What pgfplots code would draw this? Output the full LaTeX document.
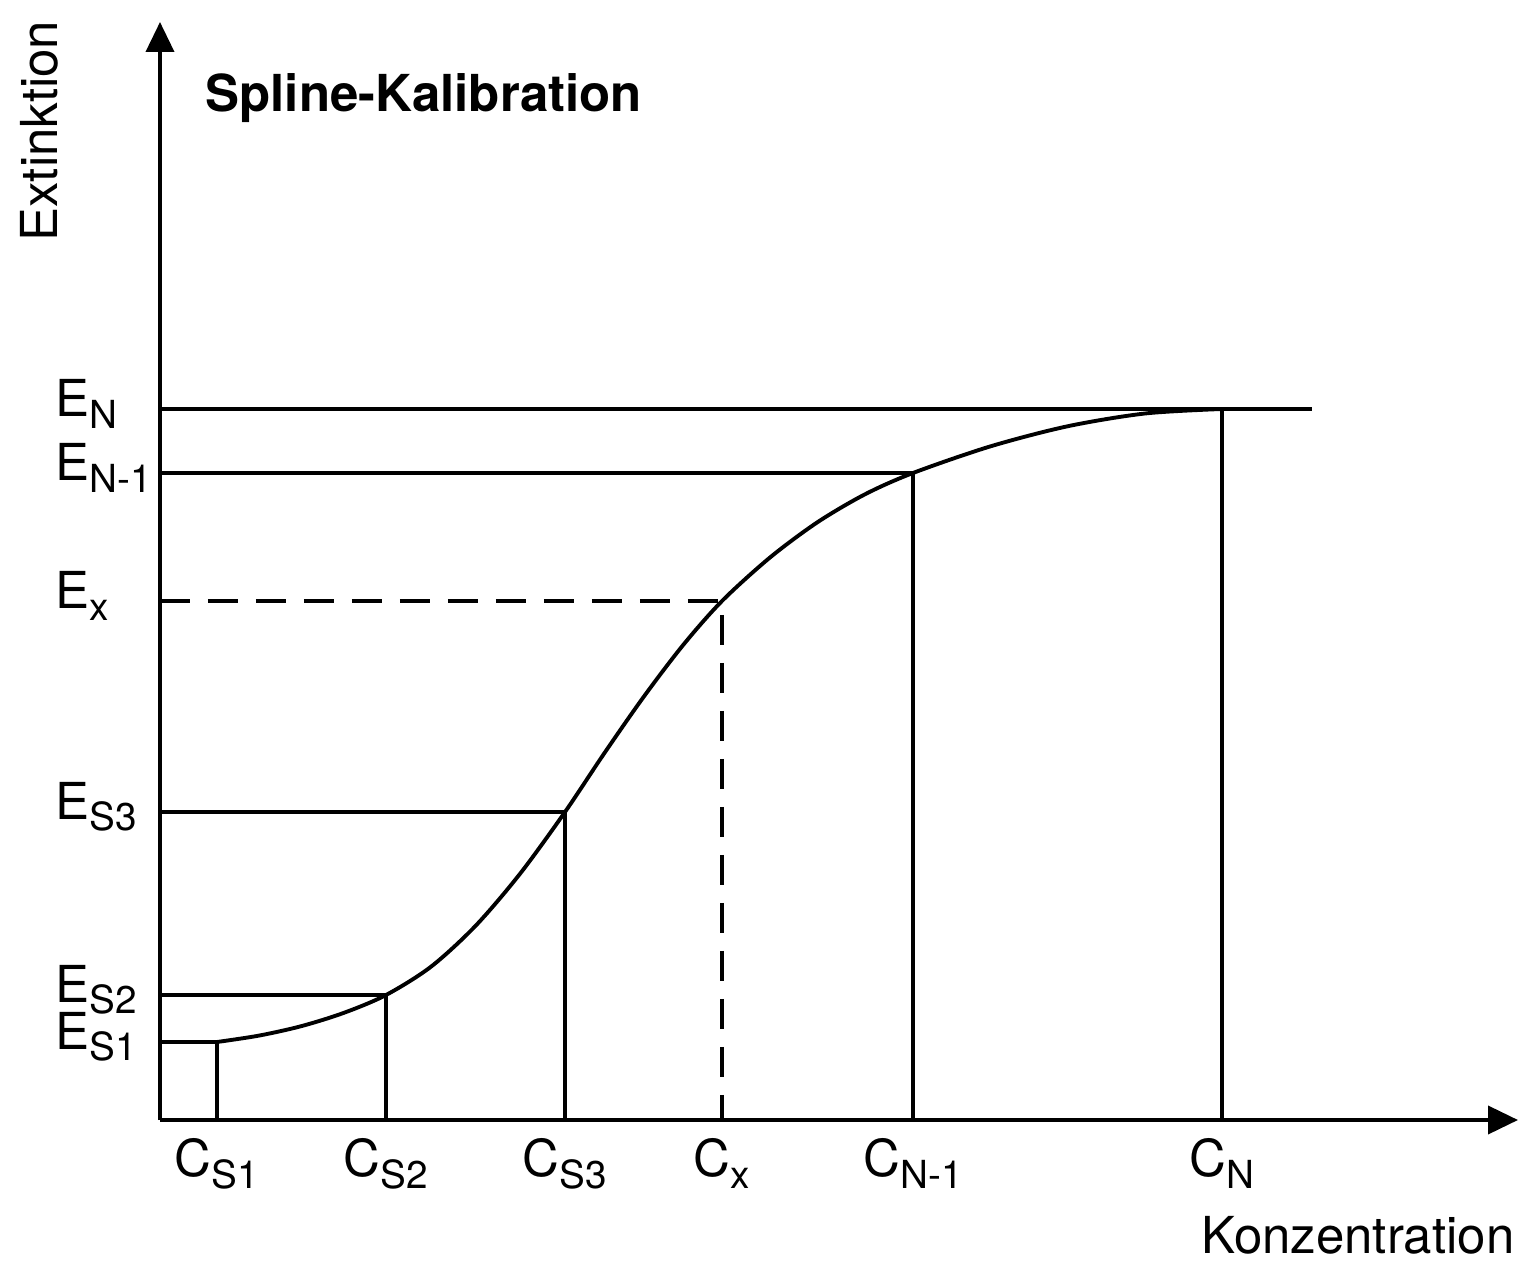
\documentclass[border=0pt]{standalone}
\usepackage{fontspec}
\setmainfont{TeX Gyre Heros}
\usepackage{pgfplots}
\pgfplotsset{compat=1.18}
\usetikzlibrary{arrows.meta}
\newcommand{\lf}{\fontsize{14.5}{17}\selectfont}
\newcommand{\sub}[1]{\raisebox{-3.3pt}{\fontsize{11}{13}\selectfont #1}}
\begin{document}
\begin{tikzpicture}
\path[use as bounding box] (-16mm,-14.3mm) rectangle (136.3mm,112mm);
\begin{axis}[
  x=0.1mm, y=0.1mm,
  xmin=0, xmax=1358, ymin=0, ymax=1098,
  enlargelimits=false,
  axis lines=left,
  axis line style={line width=1.1pt, -{Triangle[length=3mm,width=2.8mm]}},
  major tick length=0pt,
  xtick={57,226,405,562,753,1062},
  xticklabels={C\sub{S1},C\sub{S2},C\sub{S3},C\sub{x},C\sub{N-1},C\sub{N}},
  ytick={78,125,308,519,647,711},
  yticklabels={E\sub{S1},E\sub{S2},E\sub{S3},E\sub{x},E\sub{N-1},E\sub{N}},
  tick label style={font=\lf},
  xticklabel style={yshift=-0.6mm},
  yticklabel style={anchor=west, xshift=-11.7mm, yshift=1.5pt},
  clip=false,
]
\addplot[line width=1.1pt, smooth] coordinates {
(57,78)(99,84.4)(141.5,93.9)(184,107.2)(226,125)(271,153.3)(315.5,194.1)(360,246.2)(405,308)(444,366.3)(483.5,422.9)(523,474.8)(562,519)(610,562.5)(657.5,597.8)(705,625.7)(753,647)(830,673.5)(907.5,693.7)(985,706.5)(1062,711)
};
\addplot[line width=1.1pt] coordinates {(0,78)(57,78)(57,0)};
\addplot[line width=1.1pt] coordinates {(0,125)(226,125)(226,0)};
\addplot[line width=1.1pt] coordinates {(0,308)(405,308)(405,0)};
\addplot[line width=1.1pt] coordinates {(0,647)(753,647)(753,0)};
\addplot[line width=1.1pt] coordinates {(0,711)(1152,711)};
\addplot[line width=1.1pt] coordinates {(1062,711)(1062,0)};
\addplot[line width=1.1pt, dash pattern=on 3mm off 1.8mm] coordinates {(0,519)(562,519)(562,0)};
\node[font=\lf\bfseries, anchor=base west, inner sep=0pt] at (axis cs:45,1008) {Spline-Kalibration};
\node[font=\lf, anchor=base east, inner sep=0pt] at (axis cs:1355,-133) {Konzentration};
\node[font=\lf, rotate=90, anchor=base east, inner sep=0pt] at (axis cs:-102,1100) {Extinktion};
\end{axis}
\end{tikzpicture}
\end{document}
